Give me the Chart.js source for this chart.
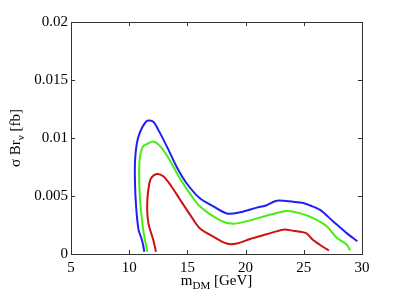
<!DOCTYPE html>
<html>
<head>
<meta charset="utf-8">
<script src="https://cdn.jsdelivr.net/npm/chart.js@4/dist/chart.umd.min.js"></script>
<style>
  body { margin: 0; background: #fff; }
  canvas { display: block; }
</style>
</head>
<body>
<canvas id="chart" width="399" height="299"></canvas>
<script>
// Valores (m_DM en GeV, sigma*Br en fb)
const xTicks = [5, 10, 15, 20, 25, 30];
const yTicks = [0, 0.005, 0.01, 0.015, 0.02];
const yTickLabels = ['0', '0.005', '0.01', '0.015', '0.02'];

const blueX = [11.3, 11.1, 10.8, 10.6, 10.5, 10.5, 10.65, 10.93, 11.36, 11.64, 12.07, 12.5, 13.22, 14.08, 14.93, 16.07, 17.23, 18.38, 19.52, 20.95, 21.81, 22.67, 24.1, 24.96, 25.5, 26.4, 27.53, 28.68, 29.6];
const blueY = [0.0002, 0.0012, 0.0021, 0.004, 0.006, 0.008, 0.0095, 0.0105, 0.0113, 0.0115, 0.0114, 0.0107, 0.0093, 0.0075, 0.0061, 0.0048, 0.0041, 0.0035, 0.0036, 0.004, 0.0042, 0.0046, 0.0045, 0.0044, 0.0042, 0.0038, 0.0028, 0.0018, 0.0011];

const greenX = [11.55, 11.2, 10.93, 10.85, 10.93, 11.2, 11.55, 12.07, 12.65, 13.36, 14.36, 15.22, 16.08, 17.8, 18.94, 20.38, 21.81, 23.53, 24.7, 25.8, 26.97, 27.83, 28.7, 28.97];
const greenY = [0.0002, 0.0021, 0.0047, 0.0072, 0.0084, 0.0093, 0.0095, 0.0097, 0.0093, 0.0083, 0.0065, 0.0052, 0.0041, 0.0029, 0.0026, 0.0029, 0.0033, 0.0037, 0.0035, 0.0031, 0.0024, 0.0014, 0.0008, 0.0003];

const redX = [12.3, 12.07, 11.64, 11.55, 11.73, 11.93, 12.36, 12.93, 13.65, 14.36, 15.22, 16.08, 17.23, 18.38, 19.24, 20.38, 21.81, 23.24, 24.1, 25.2, 25.8, 26.67, 27.16];
const redY = [0.0002, 0.0012, 0.0027, 0.0045, 0.0061, 0.0066, 0.0069, 0.0067, 0.0058, 0.0047, 0.0034, 0.0022, 0.0015, 0.0009, 0.0009, 0.0013, 0.0017, 0.0021, 0.002, 0.0018, 0.0012, 0.0006, 0.0003];

const FONT = "'Liberation Serif', 'DejaVu Serif', serif";
const AXIS_COLOR = '#333';
Chart.defaults.font.family = FONT;
Chart.defaults.font.size = 15;

function toPoints(xs, ys) {
    return xs.map((x, i) => ({ x, y: ys[i] }));
}

function curva(xs, ys, color) {
    return {
        data: toPoints(xs, ys),
        borderColor: color,
        borderWidth: 2,
        pointRadius: 0,
        showLine: true,
        fill: false,
        tension: 0.3
    };
}

// Marco completo, ticks hacia adentro y etiquetas con subíndices
const marcoPlugin = {
    id: 'marco',
    afterDraw(chart) {
        const { ctx, chartArea: a, scales } = chart;
        ctx.save();
        ctx.strokeStyle = AXIS_COLOR;
        ctx.lineWidth = 1;
        ctx.beginPath();
        ctx.moveTo(a.left, a.top + 0.5);
        ctx.lineTo(a.right + 0.5, a.top + 0.5);
        ctx.lineTo(a.right + 0.5, a.bottom);
        const len = 4;
        xTicks.forEach(v => {
            const px = Math.round(scales.x.getPixelForValue(v)) + 0.5;
            ctx.moveTo(px, a.bottom); ctx.lineTo(px, a.bottom - len);
            ctx.moveTo(px, a.top); ctx.lineTo(px, a.top + len);
        });
        yTicks.forEach(v => {
            const py = Math.round(scales.y.getPixelForValue(v)) + 0.5;
            ctx.moveTo(a.left, py); ctx.lineTo(a.left + len, py);
            ctx.moveTo(a.right, py); ctx.lineTo(a.right - len, py);
        });
        ctx.stroke();

        ctx.fillStyle = '#000';
        ctx.textBaseline = 'alphabetic';
        const big = '15px ' + FONT, small = '11px ' + FONT;

        // eje x: m_DM [GeV]
        const partesX = [['m', big, 0], ['DM', small, 4], [' [GeV]', big, 0]];
        let ancho = 0;
        partesX.forEach(p => { ctx.font = p[1]; ancho += ctx.measureText(p[0]).width; });
        let x = (a.left + a.right) / 2 - ancho / 2;
        partesX.forEach(p => {
            ctx.font = p[1];
            ctx.fillText(p[0], x, 285 + p[2]);
            x += ctx.measureText(p[0]).width;
        });

        // eje y: sigma Br_nu [fb]
        const partesY = [['σ Br', big, 0], ['ν', small, 4], [' [fb]', big, 0]];
        ancho = 0;
        partesY.forEach(p => { ctx.font = p[1]; ancho += ctx.measureText(p[0]).width; });
        ctx.translate(20, (a.top + a.bottom) / 2);
        ctx.rotate(-Math.PI / 2);
        x = -ancho / 2;
        partesY.forEach(p => {
            ctx.font = p[1];
            ctx.fillText(p[0], x, p[2]);
            x += ctx.measureText(p[0]).width;
        });
        ctx.restore();
    }
};

new Chart(document.getElementById('chart'), {
    type: 'scatter',
    data: {
        datasets: [
            curva(blueX, blueY, '#1f1ff5'),
            curva(greenX, greenY, '#44ee11'),
            curva(redX, redY, '#cc1111')
        ]
    },
    options: {
        responsive: false,
        devicePixelRatio: 1,
        animation: false,
        layout: { padding: { left: 0, top: 22, right: 37, bottom: 0 } },
        plugins: { legend: { display: false }, tooltip: { enabled: false } },
        scales: {
            x: {
                type: 'linear',
                min: 5, max: 30,
                afterBuildTicks: s => { s.ticks = xTicks.map(v => ({ value: v })); },
                afterFit: s => { s.height = 45; },
                grid: { display: true, drawOnChartArea: false, drawTicks: false },
                border: { display: true, color: AXIS_COLOR, width: 1 },
                ticks: { color: '#000', padding: 5, maxRotation: 0, font: { family: FONT, size: 15 },
                         callback: (v, i) => String(xTicks[i]) }
            },
            y: {
                type: 'linear',
                min: 0, max: 0.02,
                afterBuildTicks: s => { s.ticks = yTicks.map(v => ({ value: v })); },
                afterFit: s => { s.width = 71; },
                grid: { display: true, drawOnChartArea: false, drawTicks: false },
                border: { display: true, color: AXIS_COLOR, width: 1 },
                ticks: { color: '#000', padding: 3, font: { family: FONT, size: 15 },
                         callback: (v, i) => yTickLabels[i] }
            }
        }
    },
    plugins: [marcoPlugin]
});
</script>
</body>
</html>
